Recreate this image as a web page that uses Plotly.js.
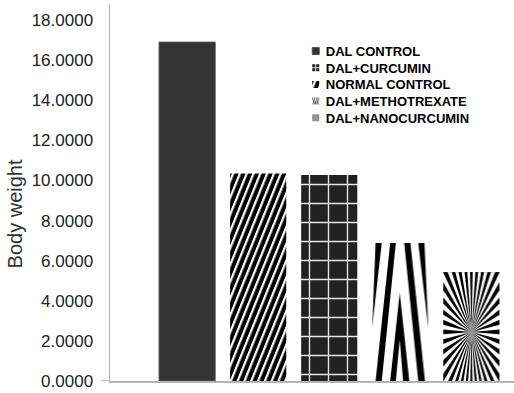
<!DOCTYPE html>
<html>
<head>
<meta charset="utf-8">
<script src="https://cdn.plot.ly/plotly-3.0.1.min.js"></script>
<style>
  html, body { margin: 0; padding: 0; background: #fff; }
  #chart { width: 514px; height: 393px; }
</style>
</head>
<body>
<div id="chart"></div>
<script>
// Treatment groups, left to right as the bars are drawn
const groups = ['DAL CONTROL', 'NORMAL CONTROL', 'DAL+CURCUMIN', 'DAL+METHOTREXATE', 'DAL+NANOCURCUMIN'];
// Mean body weight per group
const bodyWeight = [16.90, 10.35, 10.27, 6.88, 5.43];
// Order of the entries in the legend box
const legendOrder = [1, 3, 2, 4, 5];
// Y axis ticks
const yTicks = [0, 2, 4, 6, 8, 10, 12, 14, 16, 18];
const yTickText = ['0.0000', '2.0000', '4.0000', '6.0000', '8.0000', '10.0000', '12.0000', '14.0000', '16.0000', '18.0000'];

// Base fill of each bar; the striped / radial ones get their SVG fill afterwards
const baseColors = ['#333333', '#000000', '#222222', '#ffffff', '#ffffff'];
const customFills = [null, 'url(#fill-stripes)', null, 'url(#fill-converge)', 'url(#fill-sunburst)'];
const legendFills = [null, 'url(#fill-stripes)', 'url(#fill-grid-small)', 'url(#fill-converge)', 'url(#fill-sunburst)'];

const traces = groups.map((name, i) => {
  const t = {
    type: 'bar',
    name: name,
    x: [i],
    y: [bodyWeight[i]],
    width: 0.79,
    legendrank: legendOrder[i],
    marker: { color: baseColors[i], line: { width: 0 } },
    hoverinfo: 'skip'
  };
  if (i === 0) t.marker.line = { width: 1, color: '#555555' };
  if (i === 2) {
    t.marker.pattern = { shape: '+', size: 19, solidity: 0.14, fgcolor: '#e6e6e6', bgcolor: '#222222', fillmode: 'replace' };
  }
  return t;
});

const axisGray = '#b4b4b4';

const layout = {
  width: 514,
  height: 393,
  margin: { l: 110, r: 0, t: 4, b: 12 },
  paper_bgcolor: '#ffffff',
  plot_bgcolor: '#ffffff',
  barmode: 'overlay',
  showlegend: true,
  legend: {
    x: 0.435, y: 0.915, xanchor: 'left', yanchor: 'top',
    bgcolor: 'rgba(0,0,0,0)',
    font: { family: 'Liberation Sans, Arial, sans-serif', size: 13, color: '#000000', weight: 'bold' },
    traceorder: 'normal',
    itemclick: false
  },
  xaxis: {
    range: [-1.085, 4.6],
    showline: true, linecolor: axisGray, linewidth: 1.5,
    showgrid: false, zeroline: false,
    showticklabels: false, ticks: '',
    fixedrange: true
  },
  yaxis: {
    range: [0, 18.8],
    tickvals: yTicks, ticktext: yTickText,
    showline: true, linecolor: axisGray, linewidth: 1.5,
    showgrid: false, zeroline: false,
    ticks: '', ticklabelstandoff: 12,
    tickfont: { family: 'Liberation Sans, Arial, sans-serif', size: 17, color: '#222222' },
    fixedrange: true
  },
  shapes: [{
    type: 'line', xref: 'paper', yref: 'y',
    x0: -0.022, x1: 0, y0: 0, y1: 0,
    line: { color: axisGray, width: 1.5 }
  }],
  annotations: [{
    text: 'Body weight',
    xref: 'paper', yref: 'paper',
    x: -0.234, y: 0.443,
    xanchor: 'center', yanchor: 'middle',
    textangle: -90, showarrow: false,
    font: { family: 'Liberation Sans, Arial, sans-serif', size: 20, color: '#333333' }
  }]
};

const gd = document.getElementById('chart');

function applyFills() {
  const NS = 'http://www.w3.org/2000/svg';
  const defs = gd.querySelector('svg.main-svg defs');
  function make(tag, attrs, parent) {
    const e = document.createElementNS(NS, tag);
    for (const k in attrs) e.setAttribute(k, attrs[k]);
    if (parent) parent.appendChild(e);
    return e;
  }

  // Steep white diagonal stripes on black
  const stripes = make('pattern', { id: 'fill-stripes', patternUnits: 'userSpaceOnUse', width: 6.8, height: 10, patternTransform: 'skewX(-22)' }, defs);
  make('rect', { x: 0, y: 0, width: 6.8, height: 10, fill: '#000' }, stripes);
  make('rect', { x: 0, y: 0, width: 2.4, height: 10, fill: '#fff' }, stripes);

  // Four-cell grid for the small legend swatch
  const gridSmall = make('pattern', { id: 'fill-grid-small', patternUnits: 'objectBoundingBox', patternContentUnits: 'objectBoundingBox', width: 1, height: 1 }, defs);
  make('rect', { x: 0, y: 0, width: 1, height: 1, fill: '#222' }, gridSmall);
  make('rect', { x: 0.43, y: 0, width: 0.14, height: 1, fill: '#e6e6e6' }, gridSmall);
  make('rect', { x: 0, y: 0.43, width: 1, height: 0.14, fill: '#e6e6e6' }, gridSmall);

  // Converging black bands on white
  const conv = make('pattern', { id: 'fill-converge', patternUnits: 'objectBoundingBox', patternContentUnits: 'objectBoundingBox', width: 1, height: 1 }, defs);
  make('rect', { x: 0, y: 0, width: 1, height: 1, fill: '#fff' }, conv);
  [
    '0.06,0 0.17,0 0,0.61',
    '0.32,0 0.42,0 0.17,1 0.06,1',
    '0.57,0 0.68,0 0.94,1 0.82,1',
    '0.82,0 0.93,0 1,0.62',
    '0.49,0.36 0.66,1 0.55,1 0.49,0.70 0.42,1 0.32,1'
  ].forEach(p => make('polygon', { points: p, fill: '#000' }, conv));

  // Radial burst of black rays
  const sun = make('pattern', { id: 'fill-sunburst', patternUnits: 'objectBoundingBox', patternContentUnits: 'objectBoundingBox', width: 1, height: 1 }, defs);
  make('rect', { x: 0, y: 0, width: 1, height: 1, fill: '#fff' }, sun);
  const cx = 0.5, cy = 0.55, R = 1.5, rays = 36;
  for (let k = 0; k < rays; k++) {
    const a0 = (k * 360 / rays - 2.5) * Math.PI / 180;
    const a1 = (k * 360 / rays + 2.5) * Math.PI / 180;
    const pts = [cx + ',' + cy,
      (cx + R * Math.cos(a0)) + ',' + (cy + R * Math.sin(a0)),
      (cx + R * Math.cos(a1)) + ',' + (cy + R * Math.sin(a1))].join(' ');
    make('polygon', { points: pts, fill: '#000' }, sun);
  }

  gd.querySelectorAll('.barlayer .trace').forEach((g, i) => {
    if (customFills[i]) g.querySelectorAll('path').forEach(p => { p.style.fill = customFills[i]; });
  });

  // Legend: smaller swatches close to the text, tighter rows
  const rowStep = 16.7;
  let firstY = null;
  gd.querySelectorAll('.legend .traces').forEach((g, n) => {
    const idx = g.__data__[0].trace.index;
    g.querySelectorAll('.legendpoints path').forEach(p => {
      p.setAttribute('d', 'M13.5,3.5H6.5V-3.5H13.5Z');
      if (legendFills[idx]) p.style.fill = legendFills[idx];
    });
    const m = /translate\(\s*([-\d.]+)[ ,]+([-\d.]+)\s*\)/.exec(g.getAttribute('transform') || '');
    if (m) {
      const tx = parseFloat(m[1]), ty = parseFloat(m[2]);
      if (firstY === null) firstY = ty;
      g.setAttribute('transform', 'translate(' + tx + ',' + (firstY + n * rowStep) + ')');
    }
  });
}

Plotly.newPlot(gd, traces, layout, { staticPlot: true, displayModeBar: false }).then(applyFills);
</script>
</body>
</html>
